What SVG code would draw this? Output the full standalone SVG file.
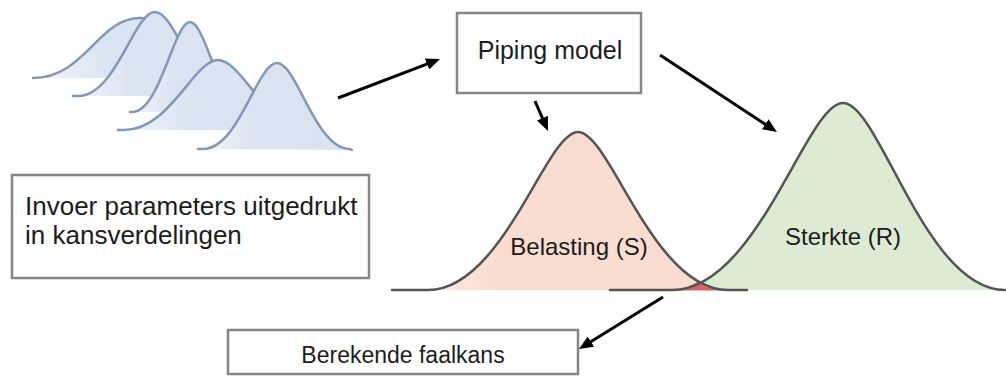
<svg xmlns="http://www.w3.org/2000/svg" xmlns:xlink="http://www.w3.org/1999/xlink" width="1006" height="377" viewBox="0 0 1006 377">
  <style>
    .box { fill: #ffffff; stroke: #858585; stroke-width: 2.5; }
    .label { font-family: "Liberation Sans", Arial, sans-serif; fill: #1c1c1c; }
    .blue { stroke: #8398b5; stroke-width: 2.5; stroke-linecap: round; stroke-linejoin: round; fill: url(#blueFill); }
    .dist-line { fill: none; stroke: #555555; stroke-width: 2.5; stroke-linecap: round; }
    .conn { fill: none; stroke: #000000; stroke-width: 3; marker-end: url(#head); }
  </style>
  <defs>
    <linearGradient id="blueFill" x1="0" y1="0" x2="1" y2="0">
      <stop offset="0" stop-color="#f3f6fb"/>
      <stop offset="0.35" stop-color="#dbe5f1"/>
      <stop offset="1" stop-color="#d9e4f1"/>
    </linearGradient>
    <linearGradient id="loadFill" x1="0" y1="0" x2="1" y2="0">
      <stop offset="0" stop-color="#fdf1ec"/>
      <stop offset="0.3" stop-color="#f9ddd0"/>
      <stop offset="1" stop-color="#f9ddd0"/>
    </linearGradient>
    <marker id="head" viewBox="0 0 14 12" markerUnits="userSpaceOnUse" markerWidth="14" markerHeight="12" refX="4" refY="6" orient="auto">
      <path d="M0,0 L14,6 L0,12 Z" fill="#000000"/>
    </marker>
    <!-- load (S) and strength (R) density curves -->
    <path id="curveS" d="M392,290 L428,290 C503,290 546,132 578,132 C610,132 653,290 728,290 L747,290"/>
    <path id="curveR" d="M610,290 L672,290 C757.5,290 806.5,103 843,103 C879.5,103 925,290 1005,290"/>
  </defs>

  <!-- input parameter distributions, back to front -->
  <g id="input-distributions">
    <path class="blue" d="M33,78 C85,78 98,18 140,18 C172,18 190,78 240,78"/>
    <path class="blue" d="M73,96 L78,96 C116,96 134,12 155,12 C176,12 194,96 232,96"/>
    <path class="blue" d="M130,112 L132,112 C160,112 174,22 190,22 C206,22 220,112 248,112"/>
    <path class="blue" d="M118,130 L124,130 C170,130 194,60 218,60 C242,60 266,130 312,130"/>
    <path class="blue" d="M198,149 L203,149 C239,149 257,63 277,63 C297,63 315,149 350,149 L352,150"/>
  </g>

  <g id="input-parameters">
    <rect class="box" x="12" y="175" width="357" height="103"/>
    <text class="label" x="25" y="215" font-size="26">Invoer parameters uitgedrukt</text>
    <text class="label" x="25" y="244" font-size="26">in kansverdelingen</text>
  </g>

  <g id="piping-model">
    <rect class="box" x="457" y="13" width="184" height="80"/>
    <text class="label" x="550" y="59" font-size="25" text-anchor="middle">Piping model</text>
  </g>

  <!-- fills first, then the overlap, then both outlines -->
  <g id="sterkte">
    <use xlink:href="#curveR" fill="#ddebd3" stroke="none"/>
  </g>
  <g id="belasting">
    <use xlink:href="#curveS" fill="url(#loadFill)" stroke="none"/>
  </g>
  <g id="overlap">
    <path d="M668,290.5 C682,290 690,287 697,282 C704,287 714,290 735,290.5 Z" fill="#cf4f55" opacity="0.85"/>
  </g>
  <g id="distribution-outlines">
    <use xlink:href="#curveR" class="dist-line"/>
    <use xlink:href="#curveS" class="dist-line"/>
    <text class="label" x="579" y="255" font-size="24" text-anchor="middle">Belasting (S)</text>
    <text class="label" x="843" y="245" font-size="24" text-anchor="middle">Sterkte (R)</text>
  </g>

  <g id="faalkans">
    <rect class="box" x="228" y="330" width="350" height="44"/>
    <text class="label" x="403" y="363" font-size="23" text-anchor="middle">Berekende faalkans</text>
  </g>

  <g id="connectors">
    <line class="conn" x1="338" y1="98" x2="430.7" y2="62.6"/>
    <line class="conn" x1="535" y1="101" x2="544" y2="121.8"/>
    <line class="conn" x1="660" y1="55" x2="768.6" y2="126.5"/>
    <line class="conn" x1="663" y1="297" x2="587.5" y2="343.7"/>
  </g>
</svg>
